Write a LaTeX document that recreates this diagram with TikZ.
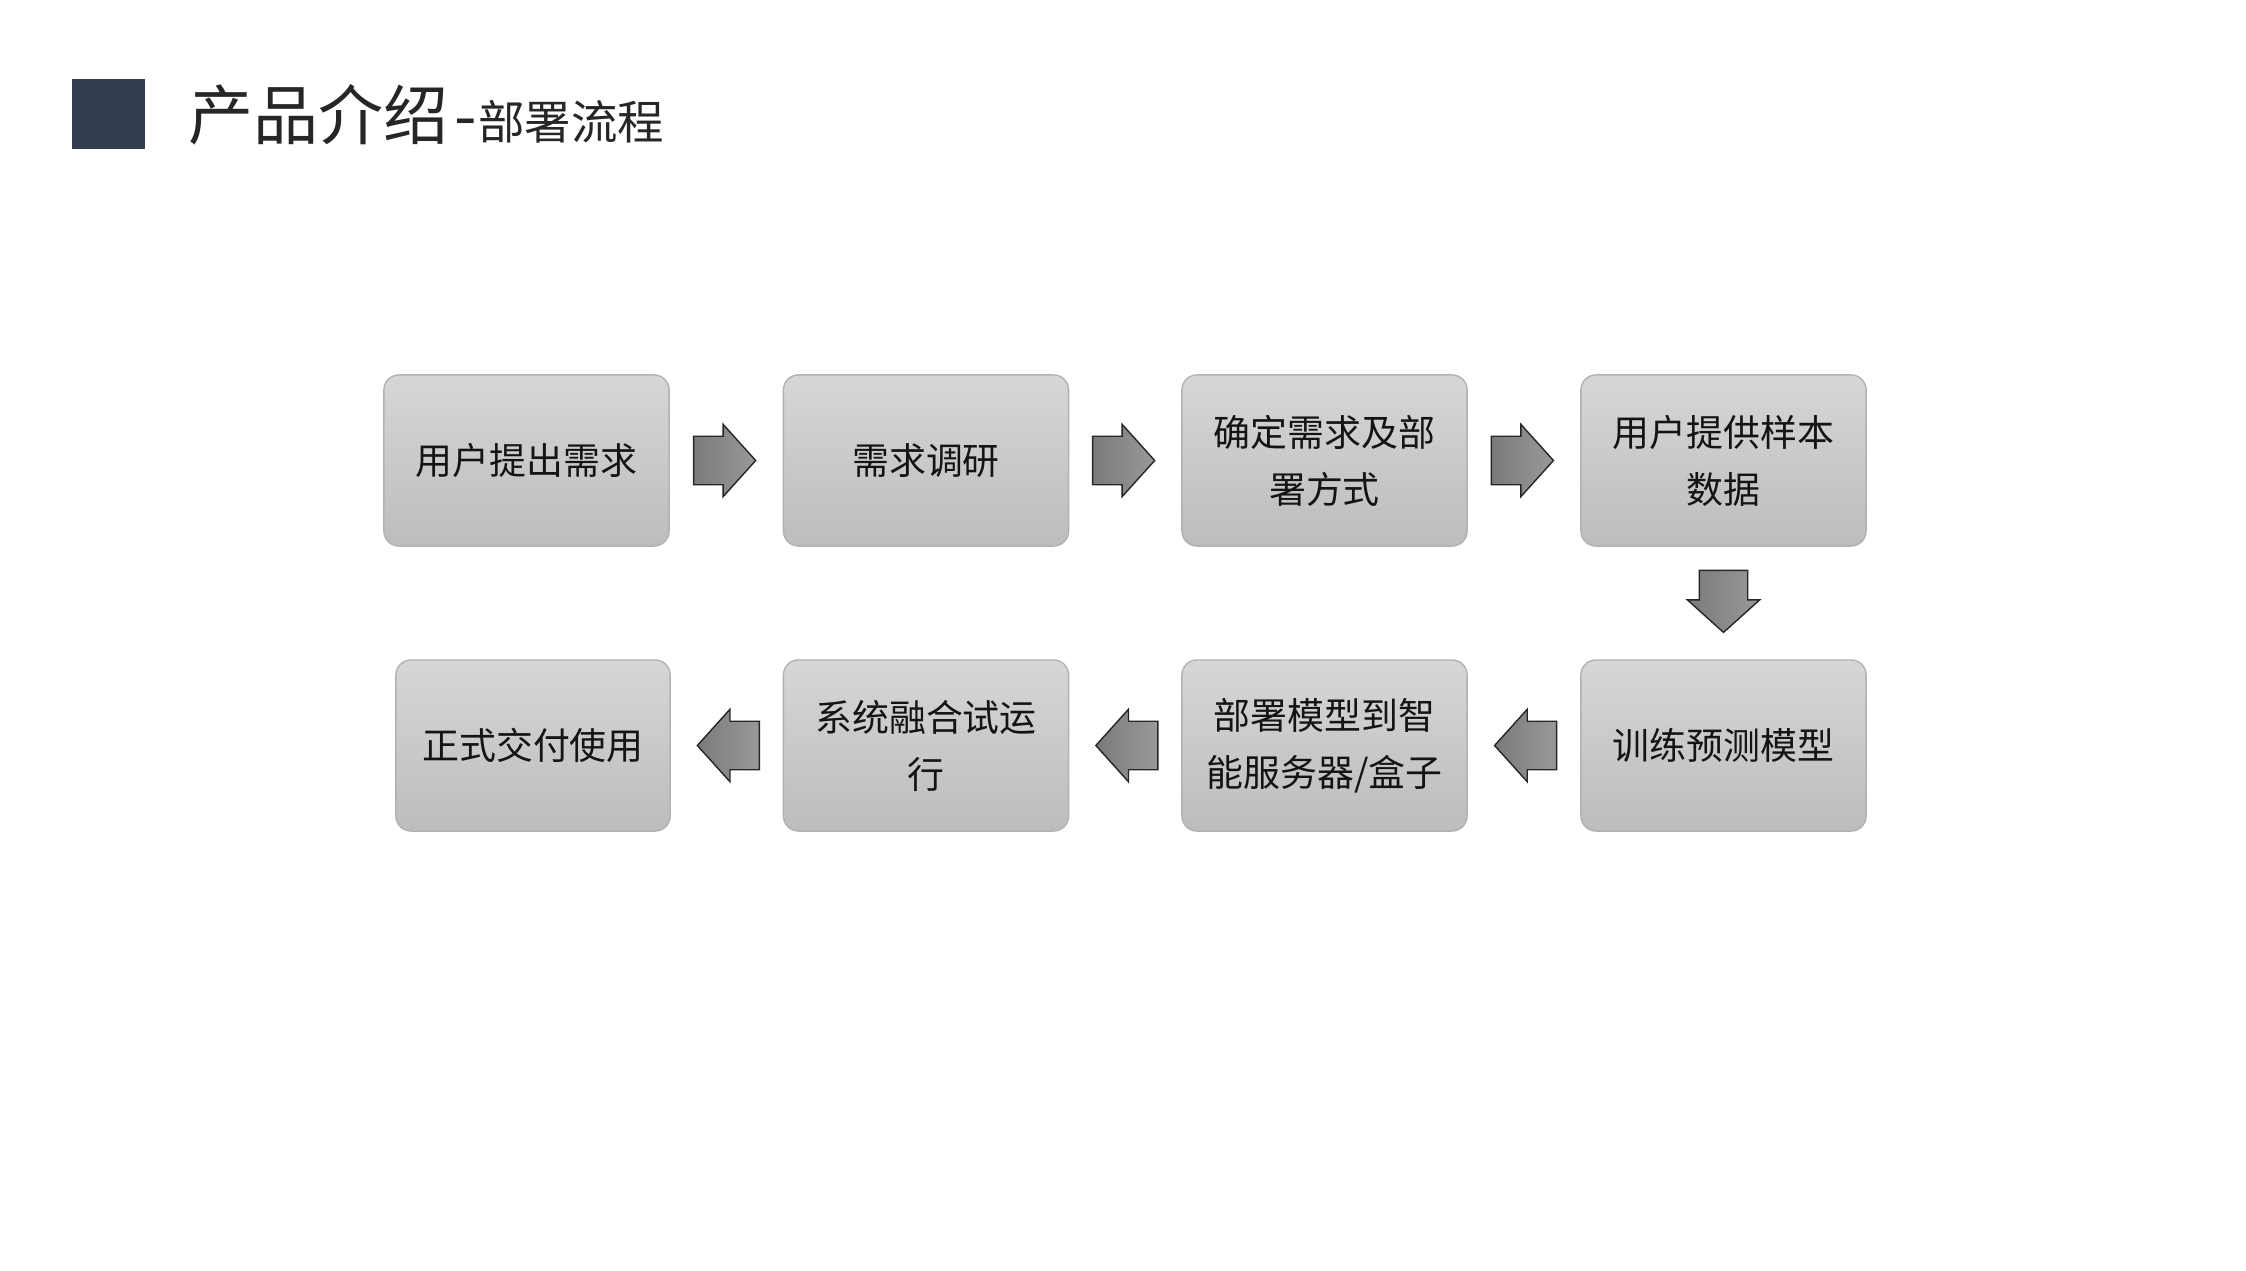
\documentclass[tikz,border=0pt]{standalone}
\usepackage{fontspec}
\newfontfamily\cjk{Noto Sans CJK SC}
\usepackage{xcolor}
\usepackage{tikz}
\usetikzlibrary{positioning, shapes.arrows, calc}
\definecolor{titlesq}{HTML}{323E50}
\definecolor{titletxt}{HTML}{262626}
\tikzset{
  proc/.style ={rectangle, rounded corners=0.15cm, draw=black!30, top color=black!16, bottom color=black!26,
                align=center, inner sep=2pt, font=\cjk\fontsize{10.5}{16.2}\selectfont, text=black!92},
  flow/.style ={single arrow, draw=black!85, left color=black!52, right color=black!40,
                minimum width=0.71cm, minimum height=0.62cm, single arrow head extend=0.12cm, single arrow tip angle=96},
  flowr/.style={flow, inner xsep=0pt, inner ysep=0.235cm, xshift=-0.125cm},
  flowl/.style={flow, inner xsep=0pt, inner ysep=0.235cm, shape border rotate=180, xshift=0.125cm},
  flowd/.style={flow, inner xsep=0.235cm, inner ysep=0pt, shape border rotate=270, yshift=0.125cm},
}

\begin{document}
\begin{tikzpicture}[x=0.01cm, y=-0.01cm,
    box/.style={proc, minimum width=2.85cm, minimum height=1.71cm},
    lastbox/.style={proc, minimum width=2.74cm, minimum height=1.71cm}
]
\useasboundingbox (0,0) rectangle (2246,1270);

% 标题
\node[fill=titlesq, minimum width=0.73cm, minimum height=0.70cm, inner sep=0pt] (mark) at (108.5,114) {};
\node[anchor=base west, inner sep=0pt, text=titletxt] (title) at (188,140)
  {\cjk\fontsize{18.5}{22}\selectfont 产品介绍\hspace{1.5pt}-\hspace{0.5pt}\fontsize{13.2}{16}\selectfont 部署流程};

% 第一行
\node[box] (b1) at (526.5,460.5) {用户提出需求};
\node[box] (b2) at (926,460.5) {需求调研};
\node[box] (b3) at (1324.5,460.5) {确定需求及部\\署方式};
\node[box] (b4) at (1723.5,460.5) {用户提供样本\\数据};

% 第二行
\node[box] (b5) at (1723.5,745.5) {训练预测模型};
\node[box] (b6) at (1324.5,745.5) {部署模型到智\\能服务器/盒子};
\node[box] (b7) at (926,745.5) {系统融合试运\\行};
\node[lastbox] (b8) at (533,745.5) {正式交付使用};

% 箭头
\node[flowr] (a12) at ($(b1.east)!0.5!(b2.west)$) {};
\node[flowr] (a23) at ($(b2.east)!0.5!(b3.west)$) {};
\node[flowr] (a34) at ($(b3.east)!0.5!(b4.west)$) {};
\node[flowd] (a45) at ($(b4.south)!0.5!(b5.north)$) {};
\node[flowl] (a56) at ($(b5.west)!0.5!(b6.east)$) {};
\node[flowl] (a67) at ($(b6.west)!0.5!(b7.east)$) {};
\node[flowl] (a78) at ($(b7.west)!0.5!(b8.east)$) {};

\end{tikzpicture}
\end{document}
